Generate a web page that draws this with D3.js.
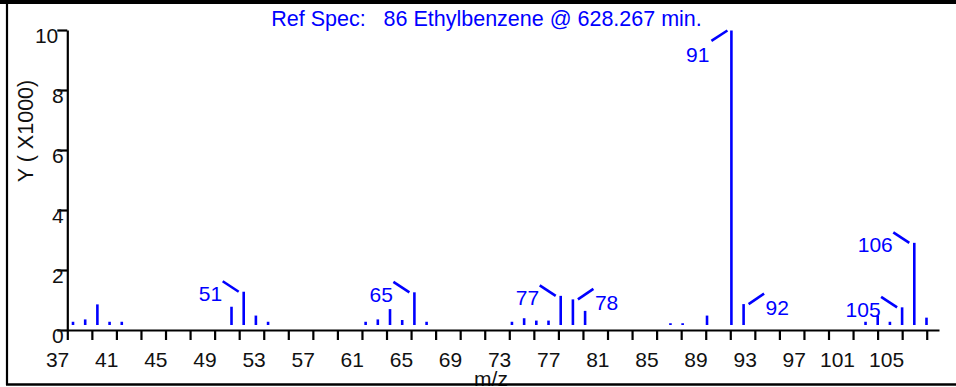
<!DOCTYPE html>
<html>
<head>
<meta charset="utf-8">
<script src="https://cdn.jsdelivr.net/npm/d3@7"></script>
<style>
  html, body { margin: 0; padding: 0; background: #fff; }
  svg { display: block; }
  text { font-family: "Liberation Sans", Arial, sans-serif; }
</style>
</head>
<body>
<svg id="chart" width="956" height="387"></svg>
<script>
// Mass spectrum of ethylbenzene (library reference), abundances in thousands
const mzValues = [37, 38, 39, 40, 41, 50, 51, 52, 53, 61, 62, 63, 64, 65, 66,
                  73, 74, 75, 76, 77, 78, 79, 86, 87, 89, 91, 92, 102, 103, 104, 105, 106, 107];
const abundance = [0.11, 0.19, 0.70, 0.11, 0.11, 0.62, 1.13, 0.32, 0.11, 0.11, 0.19, 0.54, 0.17, 1.11, 0.11,
                   0.11, 0.23, 0.15, 0.15, 0.99, 0.87, 0.48, 0.06, 0.06, 0.32, 10.0, 0.71, 0.11, 0.32, 0.11, 0.60, 2.79, 0.25];

// Annotated peaks and the side their leader line points to
const labelledMz = [51, 65, 77, 78, 91, 92, 105, 106];
const labelSide  = ["left", "left", "left", "right", "below", "right", "left", "left"];

const xTickValues = [37, 39, 41, 43, 45, 47, 49, 51, 53, 55, 57, 59, 61, 63, 65, 67, 69, 71, 73, 75, 77,
                     79, 81, 83, 85, 87, 89, 91, 93, 95, 97, 99, 101, 103, 105, 107];
const xTickLabels = [37, 41, 45, 49, 53, 57, 61, 65, 69, 73, 77, 81, 85, 89, 93, 97, 101, 105];
const yTickValues = [0, 2, 4, 6, 8, 10];

const titleText = "Ref Spec:   86 Ethylbenzene @ 628.267 min.";
const xTitle = "m/z";
const yTitle = "Y ( X1000)";

const BLUE = "#0000ff";
const FONT = "'Liberation Sans', Arial, sans-serif";
const svg = d3.select("#chart");

// Axis grid scales
const xAxisScale = d3.scaleLinear().domain([37, 108]).range([67.3, 939]);
const yAxisScale = d3.scaleLinear().domain([0, 10]).range([330, 30]);
// Stick positions: sticks sit a little off the tick grid and start just above the baseline
const xStick = d3.scaleLinear().domain([37, 106]).range([73, 914.3]);
const yStick = d3.scaleLinear().domain([0, 10]).range([325, 30.5]);

// Frame
svg.append("rect").attr("x", 0).attr("y", 0).attr("width", 956).attr("height", 4).attr("fill", "#000");
svg.append("line").attr("x1", 7).attr("x2", 7).attr("y1", 2).attr("y2", 385)
  .attr("stroke", "#000").attr("stroke-width", 2.2);

// Title
svg.append("text")
  .attr("x", 486.5).attr("y", 26)
  .attr("text-anchor", "middle")
  .attr("fill", BLUE)
  .style("font-size", "21.5px")
  .style("white-space", "pre")
  .text(titleText);

// X axis
const xAxis = d3.axisBottom(xAxisScale)
  .tickValues(xTickValues)
  .tickSizeInner(10).tickSizeOuter(0)
  .tickFormat(d => xTickLabels.includes(d) ? String(d) : "");
const gx = svg.append("g").attr("transform", "translate(0,330)").call(xAxis);
gx.select(".domain").attr("stroke", "#000").attr("stroke-width", 2.2);
gx.selectAll(".tick line").attr("stroke", "#000").attr("stroke-width", 2.2);
gx.selectAll(".tick text")
  .attr("text-anchor", "end").attr("x", 1.5).attr("y", 37).attr("dy", 0)
  .attr("fill", "#111")
  .style("font-size", "21px").style("font-family", FONT);

// Y axis
const yAxis = d3.axisLeft(yAxisScale)
  .tickValues(yTickValues)
  .tickSizeInner(10).tickSizeOuter(0)
  .tickFormat(d => String(d));
const gy = svg.append("g").attr("transform", "translate(67.3,0)").call(yAxis);
gy.select(".domain").attr("stroke", "#000").attr("stroke-width", 2.2);
gy.selectAll(".tick line").attr("stroke", "#000").attr("stroke-width", 2.2);
gy.selectAll(".tick text")
  .attr("text-anchor", "end")
  .attr("x", d => String(d).length > 1 ? -9 : -3.5)
  .attr("y", 12).attr("dy", 0)
  .attr("fill", "#111")
  .style("font-size", "21px").style("font-family", FONT);

// Axis titles
svg.append("text")
  .attr("transform", "translate(32.5,131) rotate(-90)")
  .attr("text-anchor", "middle")
  .attr("fill", "#111")
  .style("font-size", "21.5px")
  .text(yTitle);

svg.append("text")
  .attr("x", 491).attr("y", 386)
  .attr("text-anchor", "middle")
  .attr("fill", "#111")
  .style("font-size", "21px")
  .text(xTitle);

// Sticks
const peaks = mzValues.map((m, i) => ({ mz: m, v: abundance[i] }));
svg.append("g").selectAll("line").data(peaks).join("line")
  .attr("x1", d => xStick(d.mz)).attr("x2", d => xStick(d.mz))
  .attr("y1", yStick(0)).attr("y2", d => yStick(d.v))
  .attr("stroke", BLUE).attr("stroke-width", 2.6);

// Peak annotations with leader lines
const notes = labelledMz.map((m, i) => {
  const p = peaks.find(q => q.mz === m);
  return { mz: m, x: xStick(m), top: yStick(p.v), side: labelSide[i] };
});
const gn = svg.append("g");
notes.forEach(n => {
  let x1, y1, x2, y2, tx, ty, anchor;
  if (n.side === "left") {
    x1 = n.x - 5; y1 = n.top; x2 = n.x - 21; y2 = n.top - 10.5;
    tx = n.x - 21.5; ty = n.top + 9.5; anchor = "end";
  } else if (n.side === "right") {
    x1 = n.x + 5; y1 = n.top; x2 = n.x + 20.5; y2 = n.top - 10.5;
    tx = n.x + 22; ty = n.top + 10.5; anchor = "start";
  } else {
    x1 = n.x - 4; y1 = n.top; x2 = n.x - 20; y2 = n.top + 10.3;
    tx = n.x - 22; ty = n.top + 31; anchor = "end";
  }
  gn.append("line").attr("x1", x1).attr("y1", y1).attr("x2", x2).attr("y2", y2)
    .attr("stroke", BLUE).attr("stroke-width", 2.6);
  gn.append("text").attr("x", tx).attr("y", ty)
    .attr("text-anchor", anchor).attr("fill", BLUE)
    .style("font-size", "21px")
    .text(String(n.mz));
});

// Bottom frame line drawn last so it overlays the axis title
svg.append("line").attr("x1", 6).attr("x2", 956).attr("y1", 384.5).attr("y2", 384.5)
  .attr("stroke", "#000").attr("stroke-width", 2.3);
</script>
</body>
</html>
